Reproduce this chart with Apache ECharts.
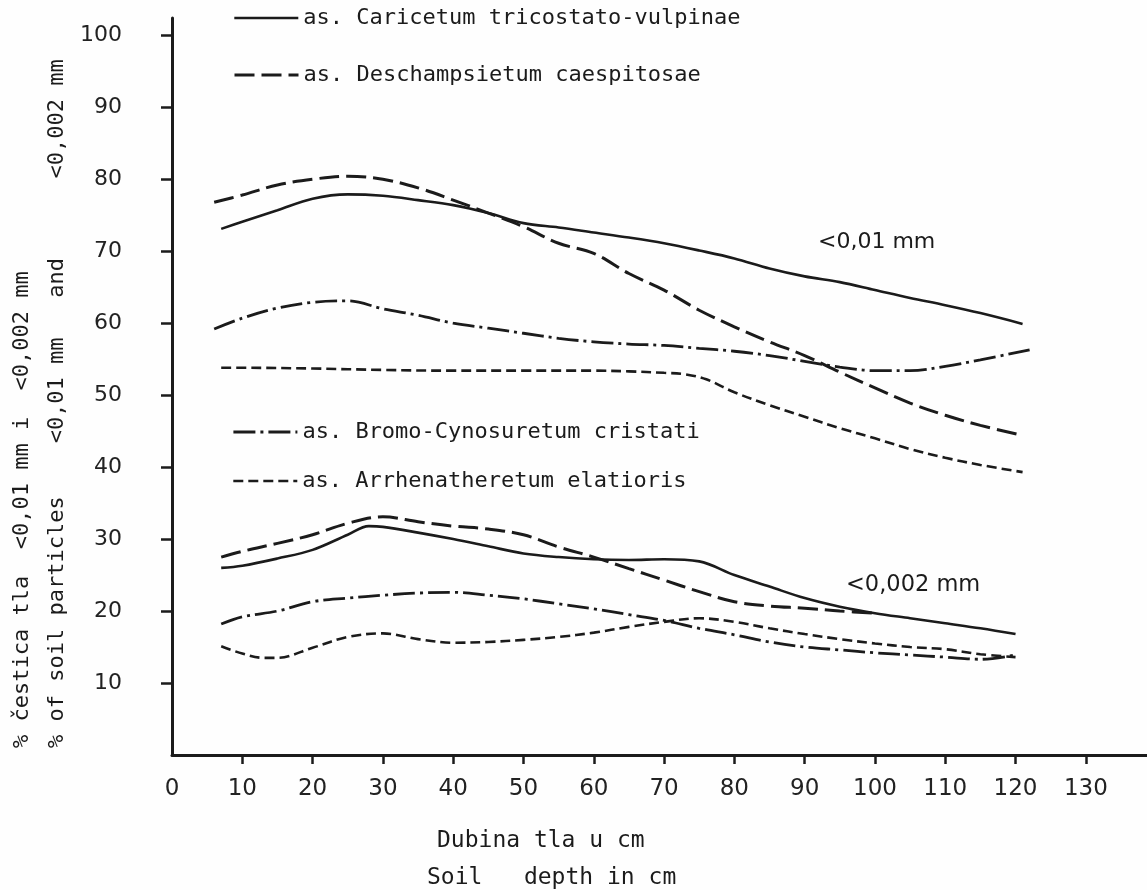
<!DOCTYPE html>
<html>
<head>
<meta charset="utf-8">
<script src="https://cdn.jsdelivr.net/npm/echarts@6/dist/echarts.min.js"></script>
<style>html,body{margin:0;padding:0;background:#fefefe;}#c{width:1147px;height:890px;}</style>
</head>
<body>
<div id="c"></div>
<script>
// ---- names ----
const NAMES = [
  'as. Caricetum tricostato-vulpinae',
  'as. Deschampsietum caespitosae',
  'as. Bromo-Cynosuretum cristati',
  'as. Arrhenatheretum elatioris'
];
// ---- particles < 0,01 mm ----
const carX1 = [7,10,15,20,25,30,35,40,45,50,55,60,65,70,75,80,85,90,95,100,105,110,115,121];
const car001 = [73.1,74.1,75.7,77.3,77.9,77.7,77.1,76.4,75.3,73.9,73.3,72.6,71.9,71.1,70.1,69.0,67.6,66.5,65.7,64.6,63.5,62.5,61.4,59.9];
const desX1 = [6,10,15,20,25,30,35,40,45,50,55,60,65,70,75,80,85,90,95,100,105,110,115,121];
const des001 = [76.8,77.8,79.2,80.0,80.4,80.0,78.8,77.1,75.3,73.4,71.1,69.7,66.9,64.6,61.8,59.5,57.4,55.5,53.2,51.0,48.9,47.2,45.8,44.4];
const broX1 = [6,10,15,20,25,30,35,40,45,50,55,60,65,70,75,80,85,90,95,100,105,110,115,122];
const bro001 = [59.2,60.7,62.1,62.9,63.1,62.0,61.1,60.0,59.3,58.6,57.9,57.4,57.1,56.9,56.5,56.1,55.5,54.7,53.9,53.4,53.4,54.0,54.9,56.3];
const arrX1 = [7,10,20,30,40,50,60,65,70,73,76,80,85,90,95,100,105,110,115,121];
const arr001 = [53.8,53.8,53.7,53.5,53.4,53.4,53.4,53.3,53.1,52.9,52.2,50.4,48.6,47.0,45.4,44.0,42.5,41.3,40.3,39.3];
// ---- particles < 0,002 mm ----
const carX2 = [7,10,15,20,25,28,30,35,40,45,50,55,60,65,70,75,80,85,90,95,100,105,110,115,120];
const car0002 = [26.0,26.3,27.3,28.5,30.6,31.8,31.7,30.9,30.0,29.0,28.0,27.5,27.2,27.1,27.2,26.9,25.0,23.4,21.8,20.6,19.7,19.0,18.3,17.6,16.8];
const desX2 = [7,10,15,20,25,30,35,40,45,50,55,60,65,70,75,80,85,90,95,100];
const des0002 = [27.5,28.3,29.4,30.6,32.2,33.1,32.4,31.8,31.4,30.6,28.9,27.5,25.9,24.3,22.7,21.3,20.7,20.4,20.0,19.7];
const broX2 = [7,10,15,20,25,30,35,40,45,50,55,60,65,70,75,80,85,90,95,100,105,110,115,120];
const bro0002 = [18.2,19.2,20.0,21.3,21.8,22.2,22.5,22.6,22.2,21.7,21.0,20.3,19.5,18.7,17.6,16.7,15.7,15.0,14.6,14.2,13.9,13.6,13.3,13.9];
const arrX2 = [7,10,13,15,20,25,30,35,40,45,50,55,60,65,70,75,80,85,90,95,100,105,110,115,120];
const arr0002 = [15.1,14.1,13.5,13.5,14.9,16.4,16.9,16.1,15.6,15.7,16.0,16.4,17.0,17.8,18.5,19.0,18.5,17.6,16.8,16.1,15.5,15.0,14.7,14.0,13.6];
// ---- tick labels ----
const xLabels = [0,10,20,30,40,50,60,70,80,90,100,110,120,130];
const xTicks = [10,20,30,40,50,60,70,80,90,100,110,120,130];
const yTicks = [10,20,30,40,50,60,70,80,90,100];

const INK = '#1b1b1b';
const STYLES = [
  {type: 'solid', width: 2.6},
  {type: [20, 7], width: 3},
  {type: [22, 5, 3, 5], width: 2.8},
  {type: [10, 5], width: 2.6}
];
const zip = (xs, ys) => xs.map((x, i) => [x, ys[i]]);
function mk(idx, xs, ys) {
  return {
    type: 'line', name: NAMES[idx], data: zip(xs, ys),
    smooth: 0.35, symbol: 'none', silent: true, animation: false,
    lineStyle: {color: INK, width: STYLES[idx].width, type: STYLES[idx].type}
  };
}
const series = [
  mk(0, carX1, car001), mk(1, desX1, des001), mk(2, broX1, bro001), mk(3, arrX1, arr001),
  mk(0, carX2, car0002), mk(1, desX2, des0002), mk(2, broX2, bro0002), mk(3, arrX2, arr0002)
];
const MONO = 'DejaVu Sans Mono';
const SANS = 'DejaVu Sans';
function lg(idx, left, top, w) {
  return {
    data: [NAMES[idx]], left: left, top: top, padding: 0, orient: 'horizontal',
    itemWidth: w, itemHeight: 14, selectedMode: false,
    itemStyle: {opacity: 0},
    lineStyle: {width: STYLES[idx].width},
    textStyle: {fontFamily: MONO, fontSize: 22, color: INK, lineHeight: 24}
  };
}
const chart = echarts.init(document.getElementById('c'), null, {renderer: 'canvas'});
chart.setOption({
  backgroundColor: '#fefefe',
  animation: false,
  grid: {left: 172, right: 0, top: 18, bottom: 135, containLabel: false, outerBoundsMode: 'none'},
  legend: [lg(0, 233, 6, 64), lg(1, 233, 63, 64), lg(2, 232, 420, 64), lg(3, 232, 469, 64)],
  xAxis: {
    type: 'value', min: 0, max: 138.7,
    axisLine: {show: true, lineStyle: {color: INK, width: 3}},
    axisTick: {show: true, inside: false, length: 9, lineStyle: {color: INK, width: 2.5}, customValues: xTicks},
    axisLabel: {customValues: xLabels, margin: 23, fontFamily: SANS, fontSize: 23, color: '#222'},
    splitLine: {show: false}
  },
  yAxis: {
    type: 'value', min: 0, max: 102.4,
    axisLine: {show: true, lineStyle: {color: INK, width: 3}},
    axisTick: {show: true, inside: false, length: 11, lineStyle: {color: INK, width: 2.5}, customValues: yTicks},
    axisLabel: {customValues: yTicks, margin: 50, fontFamily: SANS, fontSize: 22, color: '#222'},
    splitLine: {show: false}
  },
  graphic: [
    {type: 'text', left: 818, top: 231, style: {text: '<0,01 mm', font: '22px "DejaVu Sans"', fill: INK}},
    {type: 'text', left: 846, top: 574, style: {text: '<0,002 mm', font: '22.5px "DejaVu Sans"', fill: INK}},
    {type: 'text', left: 437, top: 830, style: {text: 'Dubina tla u cm', font: '23px "DejaVu Sans Mono"', fill: INK}},
    {type: 'text', left: 427, top: 867, style: {text: 'Soil   depth in cm', font: '23px "DejaVu Sans Mono"', fill: INK}},
    {type: 'text', x: 22, y: 748, rotation: Math.PI / 2,
      style: {text: '% čestica tla  <0,01 mm i  <0,002 mm', font: '22px "DejaVu Sans Mono"', fill: INK, align: 'left', verticalAlign: 'middle'}},
    {type: 'text', x: 57, y: 748, rotation: Math.PI / 2,
      style: {text: '% of soil particles    <0,01 mm   and      <0,002 mm', font: '22px "DejaVu Sans Mono"', fill: INK, align: 'left', verticalAlign: 'middle'}}
  ],
  series: series
});
</script>
</body>
</html>
